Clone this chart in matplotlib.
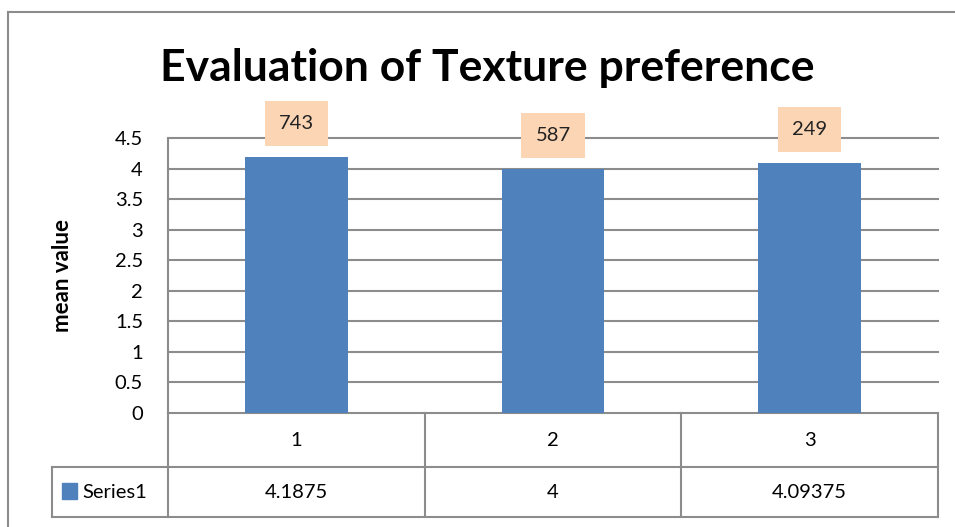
import matplotlib.pyplot as plt
from matplotlib.patches import Rectangle
from matplotlib.lines import Line2D

plt.rcParams['font.family'] = ['Lato', 'DejaVu Sans']

categories = ['1', '2', '3']
mean_values = [4.1875, 4, 4.09375]
bar_labels = ['743', '587', '249']
series_name = 'Series1'
y_ticks = [0, 0.5, 1, 1.5, 2, 2.5, 3, 3.5, 4, 4.5]

W, H = 955, 527
grey = '#8c8c8c'
fig = plt.figure(figsize=(W / 100, H / 100), dpi=100)

# outer chart frame (left and top edges visible)
fig.add_artist(Line2D([8 / W, 8 / W], [0, 1 - 12 / H], color=grey, lw=1.5))
fig.add_artist(Line2D([8 / W, 1], [1 - 12 / H, 1 - 12 / H], color=grey, lw=1.5))

ax = fig.add_axes([168 / W, (H - 413) / H, 770 / W, 275 / H])
x = list(range(len(categories)))
bars = ax.bar(x, mean_values, width=0.4, color='#4F81BD', zorder=3)
ax.set_xlim(-0.5, len(categories) - 0.5)
ax.set_ylim(0, 4.5)
ax.set_yticks(y_ticks)
ax.set_yticklabels([f'{t:g}' for t in y_ticks], fontsize=14.5)
ax.tick_params(axis='y', length=0, pad=18)
ax.set_xticks([])
ax.grid(axis='y', color=grey, lw=1.5, zorder=0)
for g in ax.get_ygridlines():
    g.set_clip_on(False)
for s in ['top', 'right', 'bottom']:
    ax.spines[s].set_visible(False)
ax.spines['left'].set_color(grey)
ax.spines['left'].set_linewidth(1.5)

ax.set_ylabel('mean value', fontsize=16, fontweight='bold', labelpad=30)

for b, lab in zip(bars, bar_labels):
    ax.annotate(lab, (b.get_x() + b.get_width() / 2, b.get_height()),
                xytext=(0, 24), textcoords='offset points', ha='center', va='center',
                fontsize=14.5, color='#222222', zorder=5,
                bbox=dict(boxstyle='square,pad=0.7', fc='#FCD5B5', ec='none'))

fig.text(487 / W, 1 - 68 / H, 'Evaluation of Texture preference',
         ha='center', va='center', fontsize=32, fontweight='bold')

# data table under the plot (x in data units, y in axes fraction)
tr = ax.get_xaxis_transform()
px = 3 / 770  # one pixel in data units along x
y_head = -54 / 275
y_bot = -104 / 275
x_left = -0.5 - 116 * px
edges = [i - 0.5 for i in range(len(categories) + 1)]
line_kw = dict(color=grey, lw=1.5, transform=tr, clip_on=False)
for e in edges:
    ax.plot([e, e], [0, y_bot], **line_kw)
ax.plot([x_left, x_left], [y_head, y_bot], **line_kw)
ax.plot([x_left, edges[-1]], [y_head, y_head], **line_kw)
ax.plot([x_left, edges[-1]], [y_bot, y_bot], **line_kw)
for xi, c, v in zip(x, categories, mean_values):
    ax.text(xi, y_head / 2, c, transform=tr, ha='center', va='center', fontsize=14.5)
    ax.text(xi, (y_head + y_bot) / 2, f'{v:g}', transform=tr, ha='center', va='center', fontsize=14.5)
ax.text(x_left + 30 * px, (y_head + y_bot) / 2, series_name, transform=tr,
        ha='left', va='center', fontsize=14.5)

# legend key in table
ax.add_patch(Rectangle(((62 - 168) / 770, (413 - 499) / 275), 15 / 770, 16 / 275,
                       transform=ax.transAxes, color='#4F81BD', clip_on=False))

fig.savefig('out.png', dpi=100)
